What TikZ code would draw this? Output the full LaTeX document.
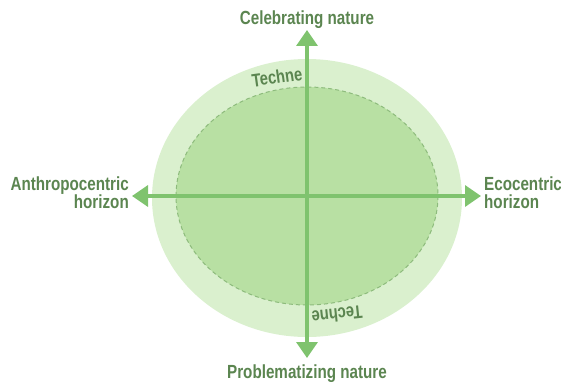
\documentclass[tikz,border=0pt]{standalone}
\usepackage{fontspec}
\setmainfont{Liberation Sans}[FakeStretch=0.8,BoldFont={* Bold},BoldFeatures={FakeStretch=0.8}]
\usetikzlibrary{arrows.meta}
\definecolor{outerg}{HTML}{DAF0CE}
\definecolor{innerg}{HTML}{B8E0A3}
\definecolor{arrowg}{HTML}{7FC36E}
\definecolor{textg}{HTML}{5B8550}
\definecolor{dashg}{HTML}{8DBB7C}
\tikzset{
  axis/.style={draw=arrowg,line width=3.4pt,-{Triangle[width=21pt,length=16pt]}},
  lbl/.style={font=\bfseries\fontsize{19}{18}\selectfont,text=textg,inner sep=0pt},
  tech/.style={font=\bfseries\fontsize{18.5}{19}\selectfont,text=textg,inner sep=0pt}
}
\begin{document}
\begin{tikzpicture}[x=1pt,y=-1pt]
\useasboundingbox (0,0) rectangle (561,385);
\fill[outerg] (307,198) ellipse [x radius=155,y radius=139];
\fill[innerg] (307,196) ellipse [x radius=131,y radius=109];
\draw[dashg,line width=1pt,dash pattern=on 4pt off 3pt] (307,196) ellipse [x radius=131,y radius=109];
\coordinate (c) at (307,196);
\node[lbl,anchor=base] (top) at (307,25) {Celebrating nature};
\node[lbl,anchor=base] (bot) at (307,378) {Problematizing nature};
\node[lbl,anchor=east,align=right] (left) at (129,193) {Anthropocentric\\horizon};
\node[lbl,anchor=west,align=left] (right) at (484,193) {Ecocentric\\horizon};
\coordinate (ctop) at (307,30);
\coordinate (cbot) at (307,358);
\coordinate (cleft) at (132,196);
\coordinate (cright) at (481,196);
\draw[axis] (c) -- (ctop);
\draw[axis] (c) -- (cbot);
\draw[axis] (c) -- (cleft);
\draw[axis] (c) -- (cright);
\node[tech,rotate=8] (t1) at (277,77) {Techne};
\node[tech,rotate=186] (t2) at (337,315) {Techne};
\end{tikzpicture}
\end{document}
